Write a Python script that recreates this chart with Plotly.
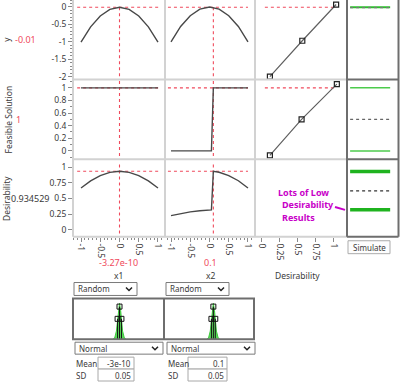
import plotly.graph_objects as go

W, H = 400, 386
FONT = "Noto Sans"


def px(x):
    return x / W


def py(y):
    return 1 - y / H


# ---------------- data ----------------
x_grid = [-1, -0.75, -0.5, -0.25, 0, 0.25, 0.5, 0.75, 1]
y_vs_x1 = [-1.01, -0.57, -0.26, -0.07, -0.01, -0.07, -0.26, -0.57, -1.01]
y_vs_x2 = [-1.0, -0.56, -0.25, -0.06, 0.0, -0.06, -0.25, -0.56, -1.0]

feas_x1 = [-1, 1]
feas_vs_x1 = [1, 1]
feas_x2 = [-1, 0.05, 0.1, 1]
feas_vs_x2 = [0, 0, 1, 1]

des_vs_x1 = [0.667, 0.78, 0.865, 0.917, 0.9345, 0.917, 0.865, 0.78, 0.667]
des_x2 = [-1, -0.75, -0.5, -0.25, 0, 0.05, 0.1, 0.25, 0.5, 0.75, 1]
des_vs_x2 = [0.227, 0.262, 0.287, 0.305, 0.315, 0.317, 0.9345, 0.918, 0.866, 0.783, 0.667]

# desirability functions (desirability on x, response on y)
y_desir_d = [0.11, 0.56, 1.03]
y_desir_y = [-2, -0.97, 0.07]
f_desir_d = [0.11, 0.55, 1.04]
f_desir_f = [-0.07, 0.5, 1.06]

# current settings
x1_cur = -3.27e-10
x2_cur = 0.1
y_cur = -0.01
feas_cur = 1
des_cur = 0.934529

# simulator summary lines
sim_y_green = [-0.01]
sim_y_dot = [-0.02]
sim_f_green = [1.0, 0.0]
sim_f_dot = [0.5]
sim_d_green = [0.93, 0.32]
sim_d_dot = [0.62]

# input distributions (normal, mean / SD)
dist_offsets = [-0.16, -0.12, -0.08, -0.05, -0.03, 0, 0.03, 0.05, 0.08, 0.12, 0.16]
dist_heights = [0, 0.05, 0.2, 0.45, 0.7, 0.88, 0.7, 0.45, 0.2, 0.05, 0]
x1_mean, x1_sd = -3e-10, 0.05
x2_mean, x2_sd = 0.1, 0.05

# tick labels
x_ticks = [-1, -0.5, 0, 0.5, 1]
x_ticktext = ["-1", "-0.5", "0", "0.5", "1"]
d_ticks = [0, 0.25, 0.5, 0.75, 1]
d_ticktext = ["0", "0.25", "0.5", "0.75", "1"]
y1_ticks = [-2, -1.5, -1, -0.5, 0]
y1_ticktext = ["-2", "-1.5", "-1", "-0.5", "0"]
y2_ticks = [0, 0.2, 0.4, 0.6, 0.8, 1]
y2_ticktext = ["0", "0.2", "0.4", "0.6", "0.8", "1"]

# ---------------- styles ----------------
CURVE = dict(color="#484848", width=1.4)
RED = "#F04A5C"
REDLINE = dict(color=RED, width=1.1, dash="dot")
GREEN = "#2DBE2D"
LIGHT = "#D2D2D2"
DARK = "#6E6E6E"
TXT = "#3A3A3A"

fig = go.Figure()


def line(x, y, xa, ya, ln, mode="lines", marker=None):
    fig.add_trace(go.Scatter(x=x, y=y, xaxis=xa, yaxis=ya, mode=mode, line=ln,
                             marker=marker, showlegend=False, hoverinfo="skip"))


# row 1: y
line([-1.1, 1.05], [y_cur, y_cur], "x", "y", REDLINE)
line([x1_cur, x1_cur], [y_cur, -2.05], "x", "y", REDLINE)
line(x_grid, y_vs_x1, "x", "y", CURVE)
line([-1.08, 1.0], [y_cur, y_cur], "x2", "y", REDLINE)
line([x2_cur, x2_cur], [y_cur, -2.05], "x2", "y", REDLINE)
line(x_grid, y_vs_x2, "x2", "y", CURVE)
line([0.04, 1.04], [y_cur, y_cur], "x3", "y", REDLINE)
line(y_desir_d, y_desir_y, "x3", "y", dict(color="#606060", width=1.2), mode="lines+markers",
     marker=dict(symbol="square-open", size=5, color="#222", line=dict(width=1.2)))

# row 2: feasible solution
line([-1.1, 1.05], [feas_cur, feas_cur], "x", "y2", REDLINE)
line([x1_cur, x1_cur], [-0.08, 1.12], "x", "y2", REDLINE)
line(feas_x1, feas_vs_x1, "x", "y2", CURVE)
line([-1.08, 1.0], [feas_cur, feas_cur], "x2", "y2", REDLINE)
line([x2_cur, x2_cur], [-0.08, 1.12], "x2", "y2", REDLINE)
line(feas_x2, feas_vs_x2, "x2", "y2", CURVE)
line([0.04, 1.04], [feas_cur, feas_cur], "x3", "y2", REDLINE)
line(f_desir_d, f_desir_f, "x3", "y2", dict(color="#606060", width=1.2), mode="lines+markers",
     marker=dict(symbol="square-open", size=5, color="#222", line=dict(width=1.2)))

# row 3: desirability
line([-1.1, 1.05], [des_cur, des_cur], "x", "y3", REDLINE)
line([x1_cur, x1_cur], [-0.06, 1.07], "x", "y3", REDLINE)
line(x_grid, des_vs_x1, "x", "y3", CURVE)
line([-1.08, 1.0], [des_cur, des_cur], "x2", "y3", REDLINE)
line([x2_cur, x2_cur], [-0.06, 1.07], "x2", "y3", REDLINE)
line(des_x2, des_vs_x2, "x2", "y3", CURVE)

# simulate column
SX = [0.06, 0.83]
for v in sim_y_green:
    line(SX, [v, v], "x4", "y", dict(color=GREEN, width=2))
for v in sim_y_dot:
    line(SX, [v, v], "x4", "y", dict(color="#777", width=1.2, dash="dot"))
for v in sim_f_green:
    line(SX, [v, v], "x4", "y2", dict(color="#4CCB4C", width=1.5))
for v in sim_f_dot:
    line(SX, [v, v], "x4", "y2", dict(color="#666", width=1.2, dash="dot"))
for v in sim_d_green:
    line(SX, [v, v], "x4", "y3", dict(color="#1FB31F", width=3.5))
for v in sim_d_dot:
    line(SX, [v, v], "x4", "y3", dict(color="#333", width=1.2, dash="dot"))

# input distributions
for xa, m, sd in (("x5", x1_mean, x1_sd), ("x6", x2_mean, x2_sd)):
    xs = [m + o for o in dist_offsets]
    fig.add_trace(go.Scatter(x=xs, y=dist_heights, xaxis=xa, yaxis="y4", mode="lines",
                             fill="toself", fillcolor="#5AD85A", line=dict(color="#3CC83C", width=1),
                             showlegend=False, hoverinfo="skip"))
    line([m - sd, m - sd], [0, 0.5], xa, "y4", dict(color="#111", width=1))
    line([m + sd, m + sd], [0, 0.5], xa, "y4", dict(color="#111", width=1))
    line([m, m], [0, 0.8], xa, "y4", dict(color="#111", width=1))
    fig.add_trace(go.Scatter(x=[m - sd, m, m + sd], y=[0.5, 0.8, 0.5], xaxis=xa, yaxis="y4",
                             mode="markers", marker=dict(symbol="square-open", size=5, color="#111",
                                                         line=dict(width=1)),
                             showlegend=False, hoverinfo="skip"))

# ---------------- axes ----------------
TF = dict(family=FONT, size=8.5, color=TXT)
common = dict(showgrid=False, zeroline=False, showline=False, ticks="outside", ticklen=4,
              tickcolor="#8A8A8A", tickfont=TF)
minor_x = dict(dtick=0.1, ticklen=2, tickcolor="#8A8A8A", ticks="outside")

fig.update_layout(
    xaxis=dict(domain=[px(73), px(165)], range=[-1.208, 1.182], anchor="y3",
               tickvals=x_ticks, ticktext=x_ticktext, tickangle=90, minor=minor_x, **common),
    xaxis2=dict(domain=[px(165), px(255)], range=[-1.156, 1.182], anchor="y3",
                tickvals=x_ticks, ticktext=x_ticktext, tickangle=90, minor=minor_x, **common),
    xaxis3=dict(domain=[px(255), px(347)], range=[-0.097, 1.181], anchor="y3",
                tickvals=d_ticks, ticktext=d_ticktext, tickangle=90, **common),
    xaxis4=dict(domain=[px(347), px(399)], range=[0, 1], anchor="y3", visible=False),
    xaxis5=dict(domain=[px(73), px(164)], range=[-1.208, 1.156], anchor="y4", visible=False),
    xaxis6=dict(domain=[px(164), px(254)], range=[-1.182, 1.156], anchor="y4", visible=False),
    yaxis=dict(domain=[py(80), py(0)], range=[-2.086, 0.2], anchor="x",
               tickvals=y1_ticks, ticktext=y1_ticktext,
               minor=dict(dtick=0.1, ticklen=2, tickcolor="#8A8A8A", ticks="outside"), **common),
    yaxis2=dict(domain=[py(160), py(80)], range=[-0.131, 1.131], anchor="x",
                tickvals=y2_ticks, ticktext=y2_ticktext,
                minor=dict(dtick=0.1, ticklen=2, tickcolor="#8A8A8A", ticks="outside"), **common),
    yaxis3=dict(domain=[py(238), py(160)], range=[-0.111, 1.127], anchor="x",
                tickvals=d_ticks, ticktext=d_ticktext, **common),
    yaxis4=dict(domain=[py(341), py(300)], range=[0, 1], anchor="x5", visible=False),
)

# ---------------- frame shapes ----------------
shapes = []


def seg(x0, y0, x1, y1, color, width):
    shapes.append(dict(type="line", xref="paper", yref="paper", x0=px(x0), y0=py(y0),
                       x1=px(x1), y1=py(y1), line=dict(color=color, width=width)))


def rect(x0, y0, x1, y1, color, width, fill="white"):
    shapes.append(dict(type="rect", xref="paper", yref="paper", x0=px(x0), y0=py(y0),
                       x1=px(x1), y1=py(y1), line=dict(color=color, width=width), fillcolor=fill,
                       layer="below"))


for xv in (73, 165, 255):
    seg(xv, 0, xv, 238, LIGHT, 2)
for yv in (80, 160, 238):
    seg(73, yv, 347, yv, LIGHT, 2)
for yv in (80, 160, 238):
    seg(347, yv, 398.5, yv, DARK, 2)
seg(347, 0, 347, 238, DARK, 2)
seg(398.5, 0, 398.5, 238, DARK, 2)

# annotation pointer
seg(335, 208, 345, 211, "#C800C8", 2)

# simulate button
rect(348, 242, 390, 255, "#ABABAB", 1, fill="#FDFDFD")

# distribution boxes
shapes.append(dict(type="rect", xref="paper", yref="paper", x0=px(73), y0=py(341), x1=px(254),
                   y1=py(300), line=dict(color=DARK, width=2), layer="above"))
seg(164, 300, 164, 341, DARK, 2)


def dropdown(x0, x1, y0, y1):
    rect(x0, y0, x1, y1, "#7A7A7A", 1)
    cx, cy = x1 - 8, (y0 + y1) / 2
    shapes.append(dict(type="path", xref="paper", yref="paper",
                       path=f"M {px(cx-3)},{py(cy-1.5)} L {px(cx)},{py(cy+1.5)} L {px(cx+3)},{py(cy-1.5)}",
                       line=dict(color="#222", width=1.5)))


dropdown(74, 137, 284, 297)
dropdown(166, 229, 284, 297)
dropdown(75, 163, 344, 356)
dropdown(167, 255, 344, 356)

for bx0, bx1 in ((98, 134), (188, 227)):
    rect(bx0, 359, bx1, 371, "#A8A8A8", 1)
    rect(bx0, 371, bx1, 383, "#A8A8A8", 1)

# ---------------- texts ----------------
anns = []


def text(x, y, s, size=8.5, color=TXT, xanchor="center", angle=0):
    anns.append(dict(x=px(x), y=py(y), xref="paper", yref="paper", text=s, showarrow=False,
                     font=dict(size=size, color=color, family=FONT), xanchor=xanchor,
                     yanchor="middle", textangle=angle))


text(7, 40, "y", angle=-90)
text(25, 40, "-0.01", size=9, color=RED)
text(8, 120, "Feasible Solution", angle=-90)
text(18, 120, "1", size=9, color=RED)
text(7, 200, "Desirability", angle=-90)
text(30, 200, "0.934529", size=9, color=TXT)

text(118, 264, "-3.27e-10", size=9, color=RED)
text(210, 264, "0.1", size=9, color=RED)
text(118, 277, "x1")
text(210, 277, "x2")
text(297, 277, "Desirability")

text(369, 248.5, "Simulate", size=8)

text(276, 193, "<b>Lots of Low</b>", size=9, color="#C800C8", xanchor="left")
text(280, 206, "<b>Desirability</b>", size=9, color="#C800C8", xanchor="left")
text(280, 219, "<b>Results</b>", size=9, color="#C800C8", xanchor="left")

text(76, 290.5, "Random", size=8, xanchor="left")
text(168, 290.5, "Random", size=8, xanchor="left")
text(77, 350, "Normal", size=8, xanchor="left")
text(169, 350, "Normal", size=8, xanchor="left")

text(74, 365, "Mean", size=8, xanchor="left")
text(74, 377, "SD", size=8, xanchor="left")
text(166, 365, "Mean", size=8, xanchor="left")
text(166, 377, "SD", size=8, xanchor="left")
text(133, 365, "-3e-10", size=8, xanchor="right")
text(133, 377, "0.05", size=8, xanchor="right")
text(226, 365, "0.1", size=8, xanchor="right")
text(226, 377, "0.05", size=8, xanchor="right")

fig.update_layout(width=W, height=H, autosize=False, margin=dict(l=0, r=0, t=0, b=0),
                  paper_bgcolor="white", plot_bgcolor="white", shapes=shapes, annotations=anns,
                  showlegend=False)

fig.write_html("out.html", config={"displayModeBar": False},
               post_script="document.body.style.margin='0px';document.body.style.overflow='hidden';")
